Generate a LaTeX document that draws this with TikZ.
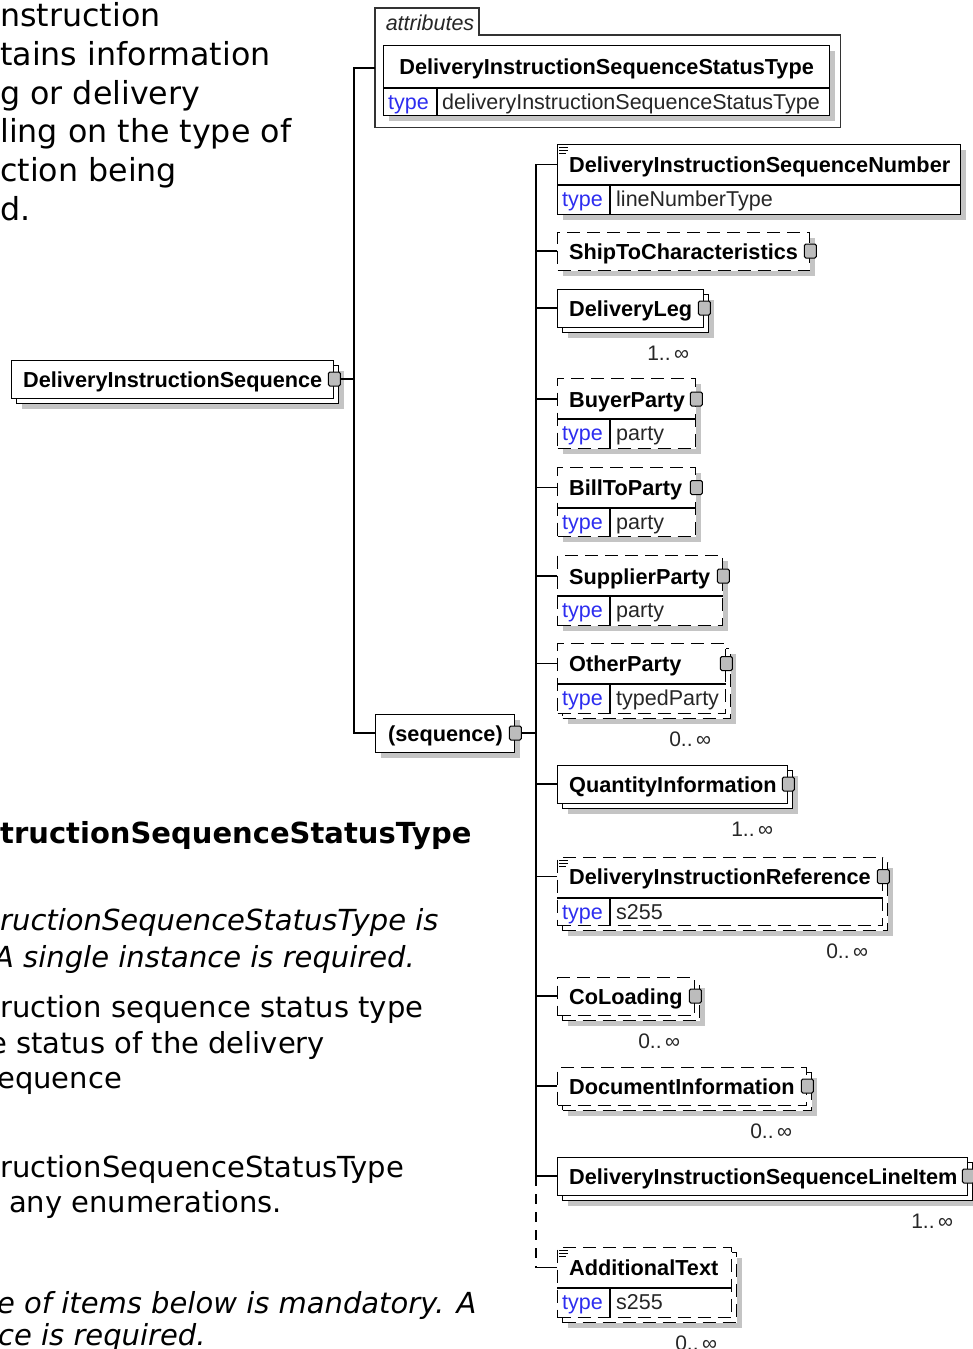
\documentclass[tikz,border=0pt]{standalone}
\usepackage{fontspec}
\usetikzlibrary{positioning, shadows}

\newfontfamily\diagfont{Liberation Sans}
\newfontfamily\notefont{DejaVu Sans}
\newcommand{\namefont}{\diagfont\bfseries\fontsize{21.7}{26}\selectfont}
\newcommand{\typefont}{\diagfont\fontsize{21.5}{26}\selectfont}
\newcommand{\cardfont}{\diagfont\fontsize{21}{24}\selectfont}
\newcommand{\introfont}{\notefont\fontsize{31.7}{38}\selectfont}
\newcommand{\bodyfont}{\notefont\fontsize{29}{36}\selectfont}

\definecolor{typeblue}{RGB}{45,45,240}
\definecolor{shadegray}{RGB}{196,196,196}
\definecolor{portgray}{RGB}{188,188,188}

\tikzset{
  elem/.style={draw, fill=white, line width=1.3pt, anchor=north west, inner sep=0pt,
    drop shadow={shadow xshift=5pt, shadow yshift=-5pt, fill=shadegray, opacity=1}},
  opt/.style={dash pattern=on 13pt off 7pt},
  multi/.style={drop shadow={shadow xshift=10pt, shadow yshift=-10pt, fill=shadegray, opacity=1},
    copy shadow={shadow xshift=5pt, shadow yshift=-5pt, draw=black, fill=white}},
  ename/.style={font=\namefont, anchor=west, inner sep=0pt, text height=16pt, text depth=0pt},
  tlabel/.style={font=\typefont, text=typeblue, anchor=west, inner sep=0pt, text height=15pt, text depth=0pt},
  tvalue/.style={tlabel, text=black!85},
  tabtext/.style={font=\typefont\itshape, text=black!85, inner sep=0pt},
  part/.style={line width=1.3pt},
  frame/.style={line width=1.2pt, draw=black!80},
  port/.style={draw, fill=portgray, line width=1pt, minimum width=12pt, minimum height=14pt,
    inner sep=0pt, rounded corners=1.5pt},
  docmark/.style={line width=0.8pt},
  card/.style={font=\cardfont, text=black!85, inner sep=0pt, text height=15pt, text depth=1pt},
  wire/.style={line width=1.3pt},
  note/.style={anchor=base west, inner sep=0pt, text=black},
}

\begin{document}
\begin{tikzpicture}[x=1pt, y=-1pt]
  \useasboundingbox (0,0) rectangle (973,1349);
  \clip (0,0) rectangle (973,1349);

  % description text, cut off at the left
  \foreach \txt [count=\i from 0] in {nstruction, tains information, g or delivery,
      ling on the type of, ction being, d.}
    \node[note, font=\introfont] (intro\i) at (0,27+38.6*\i) {\txt};

  \node[note, font=\bodyfont\bfseries] (statushead) at (0,843) {tructionSequenceStatusType};
  \node[note, font=\bodyfont\itshape] (statusnote1) at (0,930) {ructionSequenceStatusType is};
  \node[note, font=\bodyfont\itshape] (statusnote2) at (-6,967) {A single instance is required.};
  \node[note, font=\bodyfont] (statusdef1) at (0,1017) {ruction sequence status type};
  \node[note, font=\bodyfont] (statusdef2) at (-11,1053) {e status of the delivery};
  \node[note, font=\bodyfont] (statusdef3) at (-3,1088) {equence};
  \node[note, font=\bodyfont] (statusenum1) at (0,1177) {ructionSequenceStatusType};
  \node[note, font=\bodyfont] (statusenum2) at (9,1212) {any enumerations.};
  \node[note, font=\bodyfont\itshape] (seqnote1) at (-3,1313) {e of items below is mandatory. A};
  \node[note, font=\bodyfont\itshape] (seqnote2) at (-2,1345) {ce is required.};

  % root element
  \node[elem, multi, minimum width=322pt, minimum height=38pt] (root) at (11,360) {};
  \node[ename] (rootname) at (23,379) {DeliveryInstructionSequence};
  \node[port] (rootport) at (rootname -| root.east) {};

  % attributes
  \node[inner sep=0pt, anchor=north west, minimum width=465pt, minimum height=92pt] (attrs) at (375,35) {};
  \draw[frame] (attrs.south west) -- (attrs.north west) -- ++(0,-27) -- ++(104,0) -- ++(0,27)
    -- (attrs.north east) -- (attrs.south east) -- cycle;
  \node[tabtext, anchor=base] (attrslabel) at (430,30) {attributes};
  \node[elem, minimum width=446pt, minimum height=70pt] (status) at (383,45) {};
  \node[ename, anchor=center] (statusname) at (status.north |- 0,66) {DeliveryInstructionSequenceStatusType};
  \draw[part] (status.west |- 0,88) -- (status.east |- 0,88);
  \draw[part] (437,88) -- (437,115);
  \node[tlabel] (statustype) at (388,102) {type};
  \node[tvalue] (statusval) at (442,102) {deliveryInstructionSequenceStatusType};

  % sequence
  \node[elem, minimum width=139pt, minimum height=38pt] (seqbox) at (375,714) {};
  \node[ename] (seqname) at (388,733) {(sequence)};
  \node[port] (seqport) at (seqname -| seqbox.east) {};

  % children of the sequence
  \node[elem, minimum width=403pt, minimum height=70pt] (seqnum) at (557,144) {};
  \node[ename] (seqnumname) at (569,164.5) {DeliveryInstructionSequenceNumber};
  \node[elem, opt, minimum width=252pt, minimum height=38pt] (shipto) at (557,232) {};
  \node[ename] (shiptoname) at (569,251) {ShipToCharacteristics};
  \node[elem, multi, minimum width=146pt, minimum height=38pt] (leg) at (557,289) {};
  \node[ename] (legname) at (569,308) {DeliveryLeg};
  \node[elem, opt, minimum width=138pt, minimum height=70pt] (buyer) at (557,378) {};
  \node[ename] (buyername) at (569,399) {BuyerParty};
  \node[elem, opt, minimum width=138pt, minimum height=69pt] (billto) at (557,467) {};
  \node[ename] (billtoname) at (569,487.5) {BillToParty};
  \node[elem, opt, minimum width=165pt, minimum height=70pt] (supplier) at (557,555) {};
  \node[ename] (suppliername) at (569,576) {SupplierParty};
  \node[elem, opt, multi, minimum width=168pt, minimum height=70pt] (other) at (557,643) {};
  \node[ename] (othername) at (569,663.5) {OtherParty};
  \node[elem, multi, minimum width=230pt, minimum height=38pt] (qty) at (557,765) {};
  \node[ename] (qtyname) at (569,784) {QuantityInformation};
  \node[elem, opt, multi, minimum width=325pt, minimum height=68pt] (ref) at (557,857) {};
  \node[ename] (refname) at (569,876.5) {DeliveryInstructionReference};
  \node[elem, opt, multi, minimum width=137pt, minimum height=38pt] (coload) at (557,977) {};
  \node[ename] (coloadname) at (569,996) {CoLoading};
  \node[elem, opt, multi, minimum width=249pt, minimum height=38pt] (docinfo) at (557,1067) {};
  \node[ename] (docinfoname) at (569,1086) {DocumentInformation};
  \node[elem, multi, minimum width=410pt, minimum height=38pt] (lineitem) at (557,1157) {};
  \node[ename] (lineitemname) at (569,1176) {DeliveryInstructionSequenceLineItem};
  \node[elem, opt, multi, minimum width=174pt, minimum height=70pt] (addtext) at (557,1247) {};
  \node[ename] (addtextname) at (569,1267.5) {AdditionalText};

  % type rows
  \foreach \e/\val in {seqnum/lineNumberType, buyer/party, billto/party, supplier/party,
      other/typedParty, ref/s255, addtext/s255} {
    \draw[part] ([yshift=-41pt]\e.north west) -- ([yshift=-41pt]\e.north east);
    \draw[part] ([shift={(53,41)}]\e.north west) -- ([xshift=53pt]\e.south west);
    \node[tlabel] (\e type) at ([shift={(5,55)}]\e.north west) {type};
    \node[tvalue] (\e val) at ([shift={(59,55)}]\e.north west) {\val};
  }

  % documentation marks
  \foreach \e in {seqnum, ref, addtext}
    \foreach \d/\l in {3/9, 6/9, 9/7}
      \draw[docmark] ([shift={(2,\d)}]\e.north west) -- ++(\l,0);

  % connectors
  \coordinate (spine) at (354,68);
  \coordinate (bus) at (536,164);
  \draw[wire] (spine -| attrs.west) -- (spine) -- (spine |- seqname) -- (seqname -| seqbox.west);
  \draw[wire] (rootport.east) -- (spine |- rootport);
  \draw[wire] (seqport.east) -- (bus |- seqport);
  \draw[wire] (bus) -- (bus |- lineitemname);
  \draw[wire, dash pattern=on 10pt off 8pt] (bus |- lineitemname) -- (bus |- addtextname);
  \foreach \e in {seqnum, shipto, leg, buyer, billto, supplier, other, qty, ref, coload,
      docinfo, lineitem, addtext}
    \draw[wire] (bus |- \e name) -- (\e name -| \e.west);

  % ports
  \foreach \e in {shipto, leg, buyer, billto, supplier, other, qty, ref, coload, docinfo, lineitem}
    \node[port] (\e port) at (\e name -| \e.east) {};

  % occurrences
  \foreach \e/\m in {leg/1, other/0, qty/1, ref/0, coload/0, docinfo/0, lineitem/1, addtext/0}
    \node[card, below left=17pt and 15pt of \e.south east] (\e card) {\m..\,∞};
\end{tikzpicture}
\end{document}
